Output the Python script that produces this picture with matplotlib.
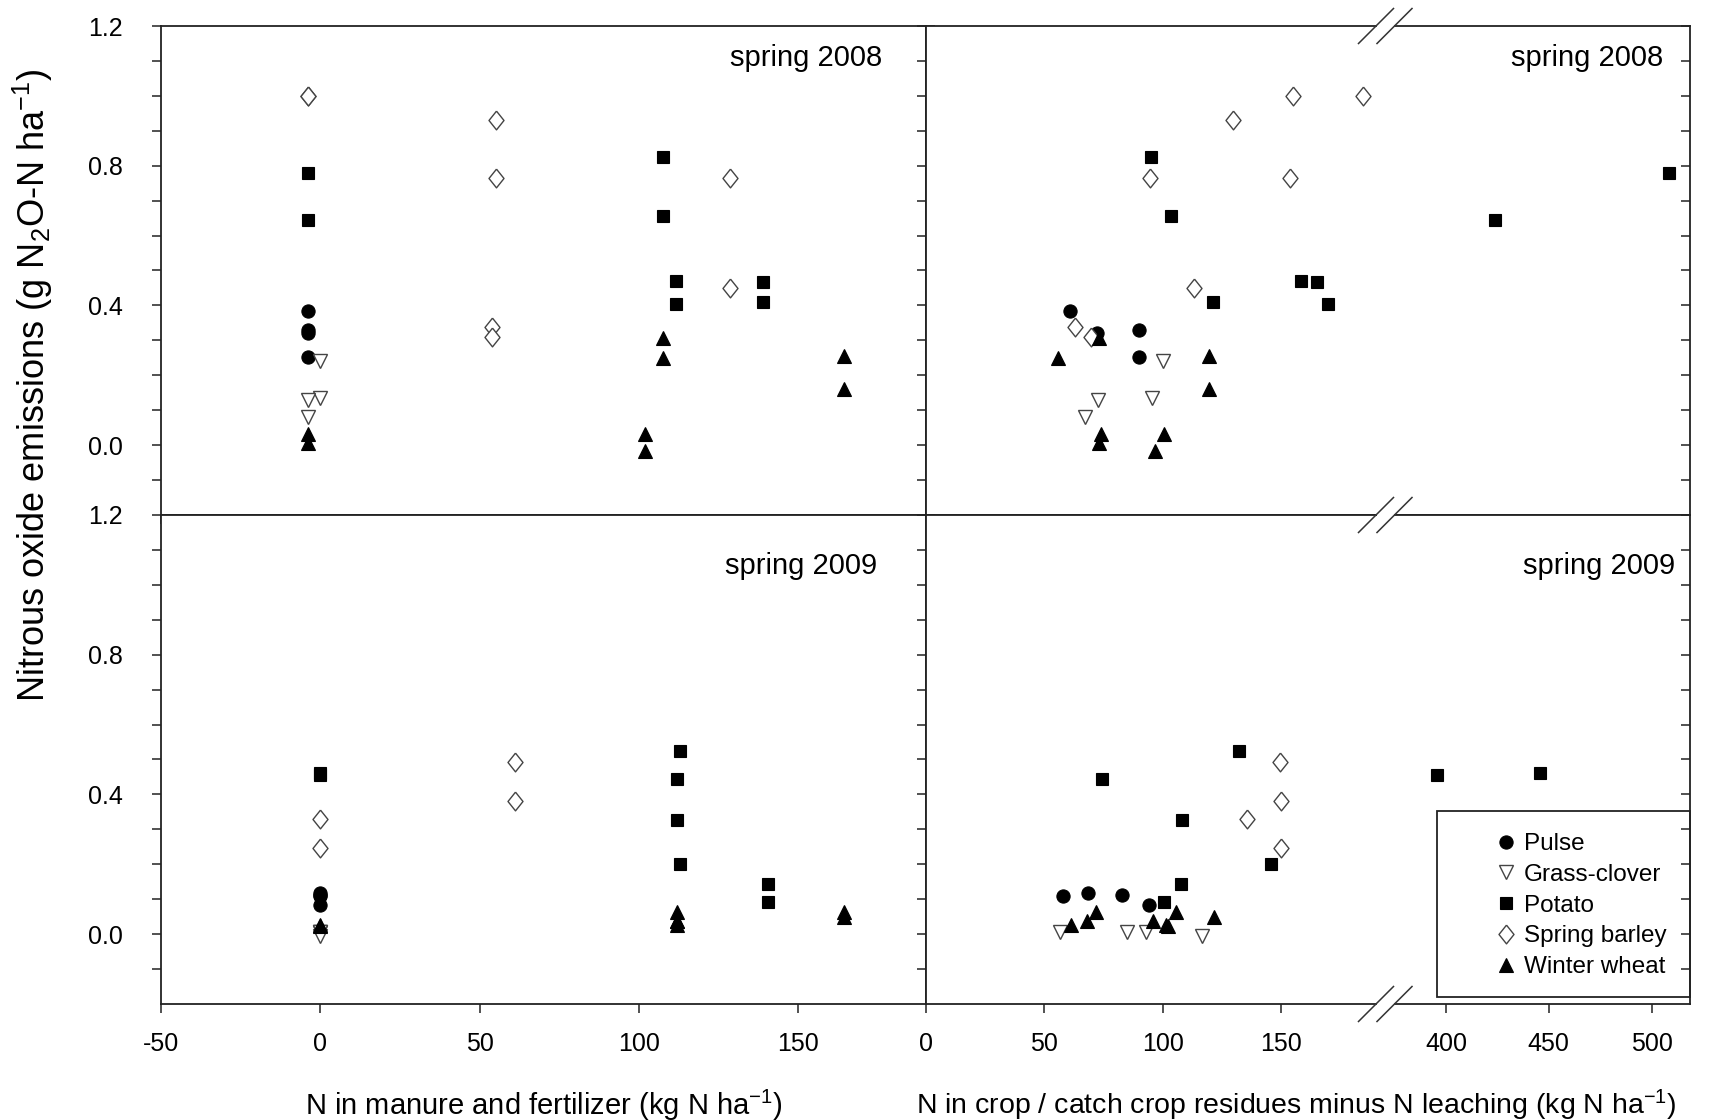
import numpy as np
import matplotlib
matplotlib.use("Agg")
import matplotlib.pyplot as plt
from matplotlib.lines import Line2D
from matplotlib.patches import Rectangle

plt.rcParams['font.family'] = ['Liberation Sans', 'DejaVu Sans']
plt.rcParams['mathtext.default'] = 'regular'
plt.rcParams['axes.unicode_minus'] = False

# ---- data: fert = N in manure/fertilizer, res = N in residues minus leaching, y = N2O-N
# spring 2008
pulse08_fert = [-4, -4, -4, -4]
pulse08_res = [61, 90, 72, 90]
pulse08_y = [0.385, 0.330, 0.322, 0.253]

grass08_fert = [0, 0, -4, -4]
grass08_res = [100, 95.5, 72.5, 67]
grass08_y = [0.240, 0.134, 0.128, 0.081]

potato08_fert = [107.5, 107.5, -4, -4, 111.6, 139, 111.6, 139]
potato08_res = [95, 103.4, 508.5, 424, 158.4, 165.3, 169.9, 121]
potato08_y = [0.825, 0.656, 0.780, 0.644, 0.469, 0.466, 0.403, 0.410]

barley08_fert = [-4, -4, 55, 55, 128.5, 54, 54, 128.5]
barley08_res = [155, 184.5, 129.5, 94.5, 153.5, 62.8, 69.7, 113]
barley08_y = [1.0, 1.0, 0.930, 0.766, 0.766, 0.338, 0.310, 0.450]

wheat08_fert = [-4, -4, 101.7, 101.7, 107.5, 107.5, 164.4, 164.4]
wheat08_res = [73.9, 72.9, 100.6, 96.5, 73.2, 55.9, 119.6, 119.6]
wheat08_y = [0.031, 0.006, 0.031, -0.016, 0.306, 0.250, 0.256, 0.160]

# spring 2009
pulse09_fert = [0, 0, 0, 0]
pulse09_res = [58, 68.6, 82.7, 94]
pulse09_y = [0.109, 0.118, 0.111, 0.083]

grass09_fert = [0, 0, 0, 0]
grass09_res = [56.6, 85, 93, 116.5]
grass09_y = [0.005, 0.005, 0.005, -0.004]

potato09_fert = [0, 0, 112.7, 112, 112, 112.7, 140.4, 140.4]
potato09_res = [395.6, 445.5, 132, 74.3, 108.3, 145.6, 107.7, 100.5]
potato09_y = [0.457, 0.462, 0.524, 0.444, 0.326, 0.200, 0.144, 0.093]

barley09_fert = [0, 0, 61, 61]
barley09_res = [135.7, 149.9, 149.6, 149.9]
barley09_y = [0.329, 0.247, 0.492, 0.382]

wheat09_fert = [0, 0, 112, 112, 112, 112, 164.4, 164.4]
wheat09_res = [61.4, 102.2, 71.8, 95.7, 68.1, 101.3, 105.4, 121.4]
wheat09_y = [0.026, 0.022, 0.062, 0.038, 0.037, 0.026, 0.062, 0.048]

crop_names = ["Pulse", "Grass-clover", "Potato", "Spring barley", "Winter wheat"]
years = ["spring 2008", "spring 2009"]

data08 = [(pulse08_fert, pulse08_res, pulse08_y),
          (grass08_fert, grass08_res, grass08_y),
          (potato08_fert, potato08_res, potato08_y),
          (barley08_fert, barley08_res, barley08_y),
          (wheat08_fert, wheat08_res, wheat08_y)]
data09 = [(pulse09_fert, pulse09_res, pulse09_y),
          (grass09_fert, grass09_res, grass09_y),
          (potato09_fert, potato09_res, potato09_y),
          (barley09_fert, barley09_res, barley09_y),
          (wheat09_fert, wheat09_res, wheat09_y)]

diamond = [(0, 1), (0.8, 0), (0, -1), (-0.8, 0), (0, 1)]
styles = [
    dict(marker='o', ms=9.5, mfc='black', mec='black', mew=0.8),
    dict(marker='v', ms=9.5, mfc='white', mec='#444444', mew=1.0),
    dict(marker='s', ms=9, mfc='black', mec='black', mew=0.8),
    dict(marker=diamond, ms=13.5, mfc='white', mec='#444444', mew=1.0),
    dict(marker='^', ms=10, mfc='black', mec='black', mew=0.8),
]

W, H = 1715, 1120
fig = plt.figure(figsize=(W / 100, H / 100), dpi=100)


def px_axes(x0, y0, x1, y1):
    return fig.add_axes([x0 / W, 1 - y1 / H, (x1 - x0) / W, (y1 - y0) / H])


XL0, XM, XA1, XB0, XR = 161, 926, 1376, 1395, 1690
rows_px = [(26, 515), (515, 1004)]
SPINE = '#222222'
tick_kw = dict(length=6.5, width=1.1, color=SPINE, labelsize=18)

axes_rows = []
for r, (y0, y1) in enumerate(rows_px):
    axl = px_axes(XL0, y0, XM, y1)
    axa = px_axes(XM, y0, XA1, y1)
    axb = px_axes(XB0, y0, XR, y1)
    bottom = r == 1
    for ax in (axl, axa, axb):
        ax.set_ylim(-0.2, 1.2)
        ax.set_yticks([0.0, 0.4, 0.8, 1.2])
        ax.set_yticks(np.arange(-0.1, 1.15, 0.1), minor=True)
        for s in ax.spines.values():
            s.set_linewidth(1.3)
            s.set_color(SPINE)
        ax.tick_params(which='both', **tick_kw)
        ax.tick_params(axis='x', which='both', top=False, bottom=True,
                       direction='out', labelbottom=bottom, pad=14)
    axl.set_xlim(-50, 190)
    axl.set_xticks([-50, 0, 50, 100, 150])
    axa.set_xlim(0, 190)
    axa.set_xticks([0, 50, 100, 150])
    axb.set_xlim(375.2, 518.7)
    axb.set_xticks([400, 450, 500])
    axl.tick_params(axis='y', which='both', left=True, right=True,
                    direction='out', labelleft=True, pad=21)
    axl.set_yticklabels(['0.0', '0.4', '0.8', '1.2'])
    axa.tick_params(axis='y', which='both', left=True, right=False,
                    direction='out', labelleft=False)
    axb.tick_params(axis='y', which='both', left=False, right=True,
                    direction='in', labelleft=False, labelright=False)
    axa.spines['right'].set_visible(False)
    axb.spines['left'].set_visible(False)
    axes_rows.append((axl, axa, axb))

for r, data in enumerate([data08, data09]):
    axl, axa, axb = axes_rows[r]
    for (fx, rx, yy), st in zip(data, styles):
        axl.plot(fx, yy, ls='none', **st)
        axa.plot(rx, yy, ls='none', **st)
        axb.plot(rx, yy, ls='none', **st)

# year labels
fig.text(882 / W, 1 - 58 / H, years[0], ha='right', va='center', fontsize=21)
fig.text(1663 / W, 1 - 58 / H, years[0], ha='right', va='center', fontsize=21)
fig.text(877 / W, 1 - 566 / H, years[1], ha='right', va='center', fontsize=21)
fig.text(1675 / W, 1 - 566 / H, years[1], ha='right', va='center', fontsize=21)

# axis break marks
for yb in (26, 515, 1004):
    for xb in (XA1, XB0 - 0.5):
        fig.add_artist(Line2D([(xb - 17.5) / W, (xb + 17.5) / W],
                              [1 - (yb + 17.5) / H, 1 - (yb - 17.5) / H],
                              transform=fig.transFigure, color='#333333', lw=1.1))

# axis titles
fig.text(33 / W, 1 - 385 / H, 'Nitrous oxide emissions (g N$_2$O-N ha$^{-1}$)',
         rotation=90, ha='center', va='center', fontsize=26)
fig.text(544 / W, 1 - 1105 / H, 'N in manure and fertilizer (kg N ha$^{-1}$)',
         ha='center', va='center', fontsize=21)
fig.text(1296 / W, 1 - 1105 / H,
         'N in crop / catch crop residues minus N leaching (kg N ha$^{-1}$)',
         ha='center', va='center', fontsize=20.5)

# legend
handles = [Line2D([], [], ls='none', **st) for st in styles]
axb = axes_rows[1][2]
leg = axb.legend(handles, crop_names, loc='upper left',
                 bbox_to_anchor=(1494 / W, 1 - 833 / H),
                 bbox_transform=fig.transFigure, frameon=False, fontsize=17.5,
                 handlelength=1.0, handletextpad=0.22, labelspacing=0.36,
                 borderpad=0, borderaxespad=0)
fig.add_artist(Rectangle((1437 / W, 1 - 997 / H), (1690 - 1437) / W, (997 - 811) / H,
                         transform=fig.transFigure, fill=False, ec=SPINE, lw=1.3))

fig.savefig("out.png", dpi=100)
